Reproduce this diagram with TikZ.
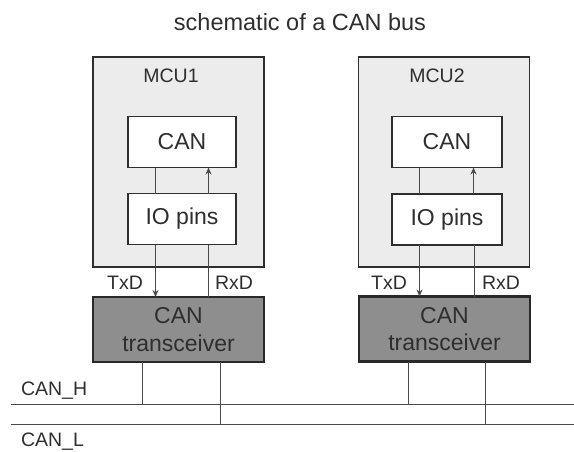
\documentclass[tikz,border=0pt]{standalone}
\usepackage{fontspec}
\setmainfont{Liberation Sans}
\usetikzlibrary{arrows.meta}
\definecolor{ink}{HTML}{2E2E2E}
\definecolor{wire}{HTML}{4A4A4A}
\definecolor{mcufill}{HTML}{ECECEC}
\definecolor{xcvrfill}{HTML}{8E8E8E}
\begin{document}
\begin{tikzpicture}[x=1pt,y=-1pt,
  every node/.style={text=ink, inner sep=0pt, outer sep=0pt},
  mcubox/.style={draw=ink, line width=1.8pt, fill=mcufill, minimum width=171pt, minimum height=210pt},
  blockbox/.style={draw=ink, line width=1.8pt, fill=white, minimum width=108pt, minimum height=51pt, font=\fontsize{23}{25}\selectfont},
  xcvrbox/.style={draw=ink!90!black, line width=2.2pt, fill=xcvrfill, minimum width=171pt, minimum height=65pt, align=center, font=\fontsize{23}{27.5}\selectfont},
  tag/.style={font=\fontsize{19.5}{22}\selectfont},
  conn/.style={draw=wire, line width=1pt},
  sig/.style={conn, -{Stealth[length=7pt,width=6pt]}}
]
\useasboundingbox (0,0) rectangle (574,451);

% title
\node[font=\fontsize{23.5}{26}\selectfont] (title) at (300,22) {schematic of a CAN bus};

% microcontroller 1
\node[mcubox] (mcu1) at (178.5,162) {};
\node[tag] (mcu1lbl) at (171,76) {MCU1};
\node[blockbox] (can1) at (182,142) {CAN};
\node[blockbox] (io1) at (182,219) {IO pins};
\node[xcvrbox] (x1) at (178.5,329.5) {CAN\\transceiver};

% microcontroller 2
\node[mcubox] (mcu2) at (444,162) {};
\node[tag] (mcu2lbl) at (437,76) {MCU2};
\node[blockbox, minimum width=110pt] (can2) at (447,142) {CAN};
\node[blockbox, minimum width=110pt] (io2) at (447,219.5) {IO pins};
\node[xcvrbox] (x2) at (444.5,329) {CAN\\transceiver};

% internal links CAN <-> IO pins
\draw[conn] (can1.south -| 155,0) -- (io1.north -| 155,0);
\draw[sig]  (io1.north -| 208.5,0) -- (can1.south -| 208.5,0);
\draw[conn] (can2.south -| 419,0) -- (io2.north -| 419,0);
\draw[sig]  (io2.north -| 473.5,0) -- (can2.south -| 473.5,0);

% TxD / RxD lines to the transceivers
\draw[sig]  (io1.south -| 155.5,0) -- (x1.north -| 155.5,0);
\draw[conn] (x1.north -| 208.5,0) -- (io1.south -| 208.5,0);
\draw[sig]  (io2.south -| 419.5,0) -- (x2.north -| 419.5,0);
\draw[conn] (x2.north -| 474,0) -- (io2.south -| 474,0);

\node[tag] (txd1) at (125,283) {TxD};
\node[tag] (rxd1) at (234,283) {RxD};
\node[tag] (txd2) at (389,283) {TxD};
\node[tag] (rxd2) at (501,283) {RxD};

% bus lines
\coordinate (hA) at (11,404);
\coordinate (hB) at (574,404);
\coordinate (lA) at (11,424);
\coordinate (lB) at (574,424);
\draw[conn] (hA) -- (hB);
\draw[conn] (lA) -- (lB);
\node[tag, anchor=west] (canh) at (21,391) {CAN\_H};
\node[tag, anchor=west] (canl) at (21,442) {CAN\_L};

% transceiver bus taps
\draw[conn] (x1.south -| 142,0) -- (142,0 |- hA);
\draw[conn] (x1.south -| 220,0) -- (220,0 |- lA);
\draw[conn] (x2.south -| 408,0) -- (408,0 |- hA);
\draw[conn] (x2.south -| 485,0) -- (485,0 |- lA);
\end{tikzpicture}
\end{document}
